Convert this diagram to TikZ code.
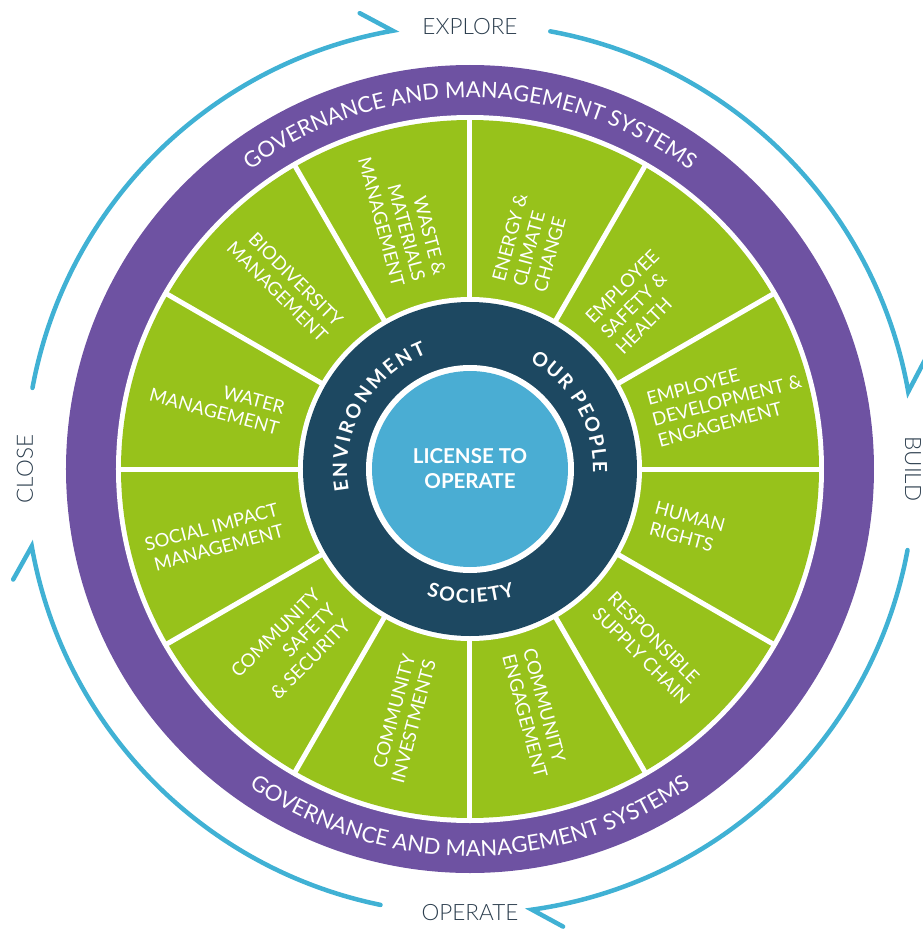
\documentclass[tikz,border=0pt]{standalone}
\usepackage{fontspec}
\setmainfont{Lato}
\newfontfamily\phasefamily{Lato Light}
\usetikzlibrary{decorations.text}

\definecolor{ringpurple}{HTML}{6E52A2}
\definecolor{leafgreen}{HTML}{97C21B}
\definecolor{hubnavy}{HTML}{1D4861}
\definecolor{coresky}{HTML}{4AADD3}
\definecolor{cyclecol}{HTML}{40B1D4}
\definecolor{slate}{HTML}{2C3E4E}

% fonts for the curved ring captions (the kern spaces the letters out)
\newcommand\govfont{\fontsize{22}{26}\selectfont\color{white}}
\newcommand\hubfont{\fontsize{19.5}{22}\selectfont\bfseries\color{white}\kern1.6pt}
\newcommand\envfont{\fontsize{19.5}{22}\selectfont\bfseries\color{white}\kern2.6pt}

\begin{document}
\begin{tikzpicture}[x=1pt,y=1pt,
  seglabel/.style={text=white, font=\fontsize{18.5}{21.5}\selectfont, inner sep=0pt},
  leftlab/.style={seglabel, align=right, anchor=east},
  rightlab/.style={seglabel, align=left, anchor=west},
  phase/.style={text=slate, font=\phasefamily\fontsize{22.5}{26}\selectfont, inner sep=0pt},
  cyclearc/.style={draw=cyclecol, line width=4.5pt, line cap=round, line join=miter},
  divider/.style={draw=white, line width=5pt}]
\useasboundingbox (-470,-461) rectangle (453,469);

% governance ring
\fill[ringpurple] (0,0) circle[radius=404];
\fill[white] (0,0) circle[radius=354];
% green wheel with twelve sectors
\fill[leafgreen] (0,0) circle[radius=349];
\foreach \a in {0,30,...,330} \draw[divider] (\a:160) -- (\a:352);
% hub ring
\fill[white] (0,0) circle[radius=172];
\fill[hubnavy] (0,0) circle[radius=167];
\fill[white] (0,0) circle[radius=104];
\node[circle, fill=coresky, minimum size=196pt, inner sep=0pt, text=white,
      align=center, font=\fontsize{20.5}{25}\selectfont\bfseries] (core) at (0,0)
      {LICENSE TO\\OPERATE};

% sector captions, left half (reading towards the hub)
\node[leftlab, rotate=-75] (waste) at (105:195) {WASTE \&\\MATERIALS\\MANAGEMENT};
\node[leftlab, rotate=-45] (biodiv) at (135:195) {BIODIVERSITY\\MANAGEMENT};
\node[leftlab, rotate=-15] (water) at (165:195) {WATER\\MANAGEMENT};
\node[leftlab, rotate=15] (social) at (195:196) {SOCIAL IMPACT\\MANAGEMENT};
\node[leftlab, rotate=45] (commsafe) at (225:195) {COMMUNITY\\SAFETY\\\& SECURITY};
\node[leftlab, rotate=75] (comminv) at (255:195) {COMMUNITY\\INVESTMENTS};
% sector captions, right half (reading away from the hub)
\node[rightlab, rotate=75] (energy) at (75:189) {ENERGY \&\\CLIMATE\\CHANGE};
\node[rightlab, rotate=45] (safety) at (45:189) {EMPLOYEE\\SAFETY \&\\HEALTH};
\node[rightlab, rotate=15] (develop) at (15:189) {EMPLOYEE\\DEVELOPMENT \&\\ENGAGEMENT};
\node[rightlab, rotate=-15] (rights) at (-15:189) {HUMAN\\RIGHTS};
\node[rightlab, rotate=-45] (supply) at (-45:189) {RESPONSIBLE\\SUPPLY CHAIN};
\node[rightlab, rotate=-75] (commeng) at (-75:189) {COMMUNITY\\ENGAGEMENT};

% curved captions
\path[decorate, decoration={text along path, text align=center,
  text={|\govfont|GOVERNANCE AND MANAGEMENT SYSTEMS}}]
  (150:371) arc[start angle=150, end angle=30, radius=371];
\path[decorate, decoration={text along path, text align=center,
  text={|\govfont|GOVERNANCE AND MANAGEMENT SYSTEMS}}]
  (210:387) arc[start angle=210, end angle=330, radius=387];
\path[decorate, decoration={text along path, text align=center,
  text={|\envfont|ENVIRONMENT}}]
  (216:123) arc[start angle=216, end angle=86, radius=123];
\path[decorate, decoration={text along path, text align=center,
  text={|\hubfont|OUR PEOPLE}}]
  (95:123) arc[start angle=95, end angle=-35, radius=123];
\path[decorate, decoration={text along path, text align=center,
  text={|\hubfont|SOCIETY}}]
  (205:134) arc[start angle=205, end angle=335, radius=134];

% life-cycle phases
\node[phase] (explore) at (90:442) {EXPLORE};
\node[phase, rotate=-90] (build) at (0:443) {BUILD};
\node[phase] (operate) at (270:444) {OPERATE};
\node[phase, rotate=90] (close) at (180:445) {CLOSE};

% cycle arrows with single outer barbs
\coordinate (c1s) at (169.5:445); \coordinate (c1b) at (103.6:469);
\coordinate (c2s) at (79.6:445);  \coordinate (c2b) at (13.5:468);
\coordinate (c3s) at (-10.5:445); \coordinate (c3b) at (-78.5:467);
\coordinate (c4s) at (258.4:445); \coordinate (c4b) at (193.6:470);
\begin{scope}
\clip (-470,-461) rectangle (453,469);
\draw[cyclearc] (c1s) arc[start angle=169.5, end angle=100, radius=445] -- (c1b);
\draw[cyclearc] (c2s) arc[start angle=79.6, end angle=10, radius=445] -- (c2b);
\draw[cyclearc] (c3s) arc[start angle=-10.5, end angle=-82, radius=445] -- (c3b);
\draw[cyclearc] (c4s) arc[start angle=258.4, end angle=190, radius=445] -- (c4b);
\end{scope}
\end{tikzpicture}
\end{document}
